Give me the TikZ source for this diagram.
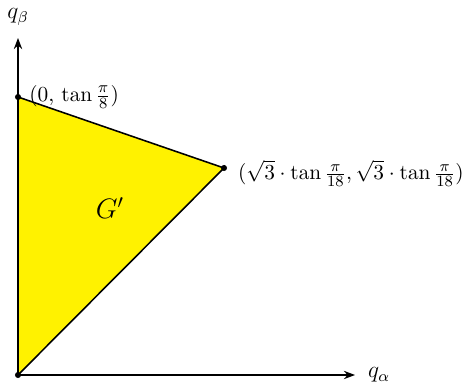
\documentclass[tikz,border=0pt]{standalone}
\usepackage{tikz}
\usetikzlibrary{positioning,arrows.meta,calc}
\usepackage{amsmath,amssymb}

\begin{document}
\begin{tikzpicture}[scale=1,
  axis/.style={thick, -{Stealth[length=2mm]}},
  corner/.style={circle, fill, inner sep=0pt, minimum size=1.1mm},
  lbl/.style={font=\fontsize{11}{13}\selectfont, inner sep=1pt}]
\useasboundingbox (-0.324,-0.18) rectangle (8.118,6.75);
% corners of G'
\coordinate (O) at (0,0);
\coordinate (A) at (0,5.004);
\coordinate (B) at (3.708,3.726);
\fill[yellow] (O) -- (A) -- (B) -- cycle;
\draw[thick] (A) -- (B) -- (O);
% axes
\coordinate (xend) at (6.066,0);
\coordinate (yend) at (0,6.066);
\draw[axis] (O) -- (xend);
\draw[axis] (O) -- (yend);
\node[font=\large] (qa) at (6.5,0) {$q_\alpha$};
\node[font=\large] (qb) at (0,6.44) {$q_\beta$};
\node[corner] (o) at (O) {};
\node[corner] (a) at (A) {};
\node[corner] (b) at (B) {};
\node[lbl, right=1mm of a] {$(0,\,\tan\frac{\pi}{8})$};
\node[lbl, right=1.5mm of b, yshift=-1mm] {$(\sqrt{3}\cdot\tan\frac{\pi}{18},\sqrt{3}\cdot\tan\frac{\pi}{18})$};
\node[font=\Large] (G) at (1.656,3.006) {$G'$};
\end{tikzpicture}
\end{document}
